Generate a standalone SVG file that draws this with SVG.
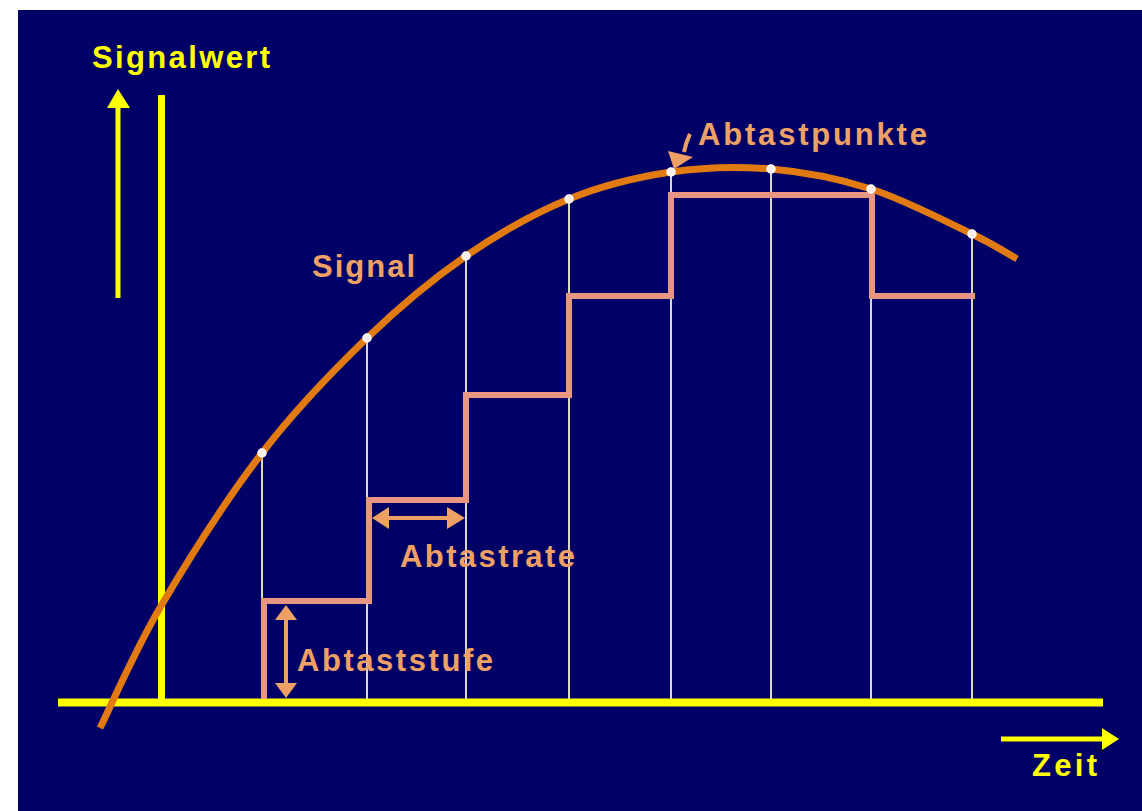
<svg xmlns="http://www.w3.org/2000/svg" width="1142" height="811" viewBox="0 0 1142 811">
<style>
.lbl{font-family:"Liberation Sans",Arial,sans-serif;font-weight:bold;font-size:31px}
.yel{fill:#FFFF00}
.org{fill:#EFA065}
.thin{stroke:#D8D8C4;stroke-width:2;fill:none}
.pt{fill:#FBEDE6;stroke:#FFFFFF;stroke-width:1.5}
</style>
<rect x="0" y="0" width="1142" height="811" fill="#FFFFFF"/>
<rect x="18" y="10" width="1124" height="801" fill="#000066"/>
<g id="axes">
<line x1="161.5" y1="95" x2="161.5" y2="702" stroke="#FFFF00" stroke-width="7"/>
<line x1="58" y1="702.5" x2="1103" y2="702.5" stroke="#FFFF00" stroke-width="8"/>
</g>
<g id="sample-lines">
<line class="thin" x1="262" y1="453" x2="262" y2="699"/>
<line class="thin" x1="367" y1="338" x2="367" y2="699"/>
<line class="thin" x1="466" y1="256" x2="466" y2="699"/>
<line class="thin" x1="569" y1="199" x2="569" y2="699"/>
<line class="thin" x1="671" y1="172" x2="671" y2="699"/>
<line class="thin" x1="771" y1="169" x2="771" y2="699"/>
<line class="thin" x1="871" y1="189" x2="871" y2="699"/>
<line class="thin" x1="972" y1="234" x2="972" y2="699"/>
</g>
<g id="steps">
<path d="M264,699 V601 H369 V500 H466 V395 H569 V296 H671 V195 H872 V296 H975" fill="none" stroke="#E89682" stroke-width="6" stroke-linejoin="miter"/>
</g>
<g id="signal-curve">
<path d="M100,728 C110.2,707.7 134,651.8 161,606 C188,560.2 227.7,497.7 262,453 C296.3,408.3 333,370.8 367,338 C401,305.2 432.3,279.2 466,256 C499.7,232.8 534.8,213 569,199 C603.2,185 637.3,177 671,172 C704.7,167 737.7,166.2 771,169 C804.3,171.8 837.5,178.2 871,189 C904.5,199.8 947.7,222.3 972,234 C996.3,245.7 1009.5,254.8 1017,259" fill="none" stroke="#E27A12" stroke-width="7"/>
</g>
<g id="sample-points">
<circle class="pt" cx="262" cy="453" r="4"/>
<circle class="pt" cx="367" cy="338" r="4"/>
<circle class="pt" cx="466" cy="256" r="4"/>
<circle class="pt" cx="569" cy="199" r="4"/>
<circle class="pt" cx="671" cy="172" r="4"/>
<circle class="pt" cx="771" cy="169" r="4"/>
<circle class="pt" cx="871" cy="189" r="4"/>
<circle class="pt" cx="972" cy="234" r="4"/>
</g>
<g id="connectors">
<g id="y-arrow">
<line x1="118" y1="298" x2="118" y2="105" stroke="#FFFF00" stroke-width="5"/>
<polygon points="118,89 107,108 130,108" fill="#FFFF00"/>
</g>
<g id="x-arrow">
<line x1="1001" y1="739" x2="1104" y2="739" stroke="#FFFF00" stroke-width="5"/>
<polygon points="1119,739 1102,728 1102,750" fill="#FFFF00"/>
</g>
<g id="rate-arrow">
<line x1="385" y1="518" x2="450" y2="518" stroke="#EFA065" stroke-width="4"/>
<polygon points="372,518 389,507 389,529" fill="#EFA065"/>
<polygon points="465,518 447,507 447,529" fill="#EFA065"/>
</g>
<g id="step-arrow">
<line x1="286" y1="618" x2="286" y2="685" stroke="#EFA065" stroke-width="4"/>
<polygon points="286,605 275,620 297,620" fill="#EFA065"/>
<polygon points="286,698 275,683 297,683" fill="#EFA065"/>
</g>
<g id="points-arrow">
<path d="M690,134 Q686,142 684,152" fill="none" stroke="#EFA065" stroke-width="4"/>
<polygon points="674,169 668,151 693,157" fill="#EFA065"/>
</g>
</g>
<g id="label-signalwert"><text class="lbl yel" x="92" y="68" textLength="178" lengthAdjust="spacing">Signalwert</text></g>
<g id="label-zeit"><text class="lbl yel" x="1032" y="776" textLength="65" lengthAdjust="spacing">Zeit</text></g>
<g id="label-signal"><text class="lbl org" x="312" y="277" textLength="103" lengthAdjust="spacing">Signal</text></g>
<g id="label-abtastpunkte"><text class="lbl org" x="698" y="145" textLength="229" lengthAdjust="spacing">Abtastpunkte</text></g>
<g id="label-abtastrate"><text class="lbl org" x="400" y="567" textLength="175" lengthAdjust="spacing">Abtastrate</text></g>
<g id="label-abtaststufe"><text class="lbl org" x="297" y="671" textLength="196" lengthAdjust="spacing">Abtaststufe</text></g>
</svg>
